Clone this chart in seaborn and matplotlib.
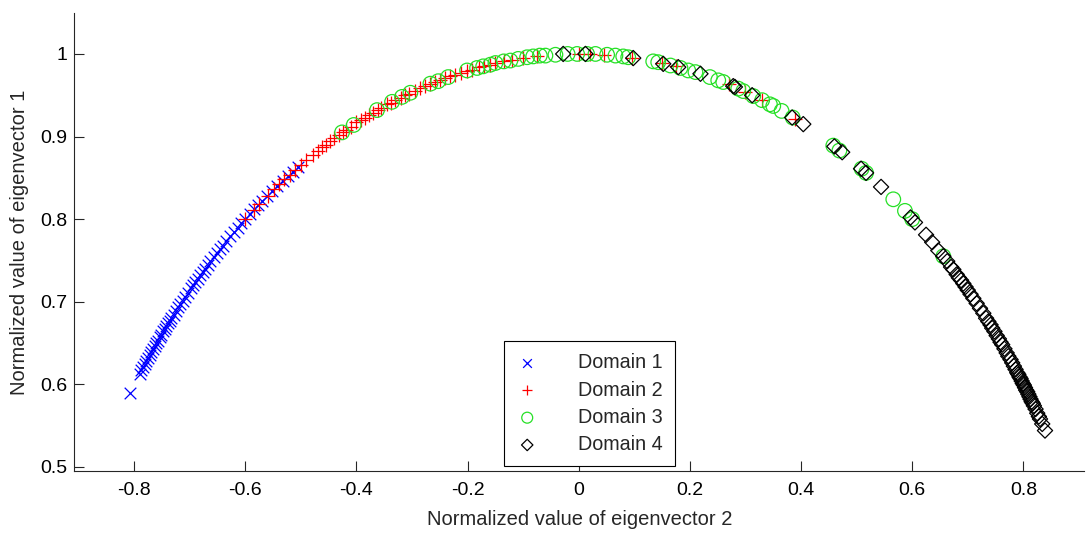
import matplotlib
matplotlib.use("Agg")
import matplotlib.pyplot as plt
import seaborn as sns
import pandas as pd

# ---------------- data ----------------
d1_x = [-0.807, -0.790, -0.787, -0.784, -0.781, -0.778, -0.775, -0.772, -0.769, -0.766,
        -0.763, -0.760, -0.757, -0.754, -0.751, -0.748, -0.745, -0.742, -0.739, -0.736,
        -0.733, -0.729, -0.725, -0.721, -0.717, -0.713, -0.708, -0.703, -0.698, -0.694,
        -0.690, -0.686, -0.681, -0.677, -0.673, -0.668, -0.663, -0.657, -0.651, -0.645,
        -0.640, -0.634, -0.627, -0.620, -0.614, -0.607, -0.600, -0.592, -0.584, -0.577,
        -0.570, -0.561, -0.552, -0.543, -0.533, -0.524, -0.515, -0.505]
d1_y = [0.590, 0.613, 0.617, 0.621, 0.625, 0.628, 0.632, 0.636, 0.639, 0.643,
        0.646, 0.650, 0.653, 0.657, 0.660, 0.664, 0.667, 0.670, 0.674, 0.677,
        0.680, 0.684, 0.689, 0.693, 0.697, 0.701, 0.706, 0.711, 0.716, 0.720,
        0.724, 0.728, 0.732, 0.736, 0.740, 0.744, 0.749, 0.754, 0.759, 0.764,
        0.768, 0.773, 0.779, 0.785, 0.789, 0.795, 0.800, 0.806, 0.812, 0.817,
        0.822, 0.828, 0.834, 0.840, 0.846, 0.852, 0.857, 0.863]

d2_x = [-0.600, -0.585, -0.575, -0.560, -0.548, -0.540, -0.530, -0.520, -0.510, -0.500,
        -0.490, -0.478, -0.470, -0.462, -0.455, -0.448, -0.440, -0.432, -0.425, -0.418,
        -0.410, -0.400, -0.392, -0.385, -0.378, -0.370, -0.362, -0.355, -0.345, -0.338,
        -0.330, -0.320, -0.312, -0.305, -0.295, -0.285, -0.276, -0.268, -0.258, -0.250,
        -0.240, -0.232, -0.222, -0.212, -0.202, -0.192, -0.180, -0.170, -0.160, -0.150,
        -0.135, -0.120, -0.100, -0.075, 0.000, 0.020, 0.045, 0.095, 0.150, 0.175,
        0.270, 0.300, 0.330, 0.390]
d2_y = [0.800, 0.811, 0.818, 0.828, 0.836, 0.842, 0.848, 0.854, 0.860, 0.866,
        0.872, 0.878, 0.883, 0.887, 0.890, 0.894, 0.898, 0.902, 0.905, 0.908,
        0.912, 0.917, 0.920, 0.923, 0.926, 0.929, 0.932, 0.935, 0.939, 0.941,
        0.944, 0.947, 0.950, 0.952, 0.955, 0.959, 0.961, 0.963, 0.966, 0.968,
        0.971, 0.973, 0.975, 0.977, 0.979, 0.981, 0.984, 0.985, 0.987, 0.989,
        0.991, 0.993, 0.995, 0.997, 1.000, 1.000, 0.999, 0.995, 0.989, 0.985,
        0.963, 0.954, 0.944, 0.921]

d3_x = [-0.426, -0.405, -0.363, -0.336, -0.318, -0.303, -0.267, -0.253, -0.235, -0.201,
        -0.183, -0.172, -0.159, -0.150, -0.135, -0.123, -0.109, -0.093, -0.082, -0.070,
        -0.060, -0.042, -0.020, -0.003, 0.015, 0.030, 0.051, 0.066, 0.080, 0.089,
        0.134, 0.143, 0.165, 0.183, 0.197, 0.210, 0.236, 0.251, 0.260, 0.287,
        0.296, 0.314, 0.330, 0.344, 0.350, 0.365, 0.385, 0.458, 0.469, 0.509,
        0.517, 0.566, 0.587, 0.600, 0.656]
d3_y = [0.905, 0.914, 0.932, 0.942, 0.948, 0.953, 0.964, 0.967, 0.972, 0.980,
        0.983, 0.985, 0.987, 0.989, 0.991, 0.992, 0.994, 0.996, 0.997, 0.998,
        0.998, 0.999, 1.000, 1.000, 1.000, 1.000, 0.999, 0.998, 0.997, 0.996,
        0.991, 0.990, 0.986, 0.983, 0.980, 0.978, 0.972, 0.968, 0.966, 0.958,
        0.955, 0.949, 0.944, 0.939, 0.937, 0.931, 0.923, 0.889, 0.883, 0.861,
        0.856, 0.824, 0.810, 0.800, 0.755]

d4_x = [-0.028, 0.012, 0.098, 0.152, 0.179, 0.219, 0.278, 0.281, 0.312, 0.384,
        0.404, 0.460, 0.474, 0.508, 0.517, 0.544, 0.597, 0.605, 0.625, 0.636,
        0.647, 0.656, 0.663, 0.670, 0.674, 0.680, 0.684, 0.688, 0.692, 0.696,
        0.700, 0.705, 0.710, 0.716, 0.722, 0.728, 0.733, 0.737, 0.741, 0.744,
        0.748, 0.752, 0.756, 0.759, 0.762, 0.766, 0.770, 0.773, 0.777, 0.780,
        0.783, 0.786, 0.789, 0.791, 0.793, 0.795, 0.797, 0.799, 0.801, 0.803,
        0.805, 0.807, 0.809, 0.811, 0.813, 0.815, 0.817, 0.819, 0.822, 0.825,
        0.828, 0.830, 0.834, 0.839]
d4_y = [1.000, 1.000, 0.995, 0.988, 0.984, 0.976, 0.961, 0.960, 0.950, 0.923,
        0.915, 0.888, 0.881, 0.861, 0.856, 0.839, 0.802, 0.796, 0.781, 0.772,
        0.762, 0.755, 0.749, 0.742, 0.739, 0.733, 0.729, 0.726, 0.722, 0.718,
        0.714, 0.709, 0.704, 0.698, 0.692, 0.686, 0.680, 0.676, 0.672, 0.668,
        0.664, 0.659, 0.655, 0.651, 0.648, 0.643, 0.638, 0.634, 0.630, 0.626,
        0.622, 0.618, 0.614, 0.612, 0.609, 0.607, 0.604, 0.601, 0.599, 0.596,
        0.593, 0.591, 0.588, 0.585, 0.582, 0.579, 0.577, 0.574, 0.570, 0.565,
        0.561, 0.558, 0.552, 0.544]

labels = ["Domain 1", "Domain 2", "Domain 3", "Domain 4"]
x_ticks = [-0.8, -0.6, -0.4, -0.2, 0, 0.2, 0.4, 0.6, 0.8]
x_tick_labels = ["-0.8", "-0.6", "-0.4", "-0.2", "0", "0.2", "0.4", "0.6", "0.8"]
y_ticks = [0.5, 0.6, 0.7, 0.8, 0.9, 1.0]
y_tick_labels = ["0.5", "0.6", "0.7", "0.8", "0.9", "1"]

# ---------------- style ----------------
sns.set_style("white")
axis_col = "#262626"
plt.rcParams.update({
    "font.family": ["Liberation Sans", "DejaVu Sans"],
    "axes.unicode_minus": False,
    "xtick.bottom": True, "ytick.left": True,
    "xtick.top": False, "ytick.right": False,
    "xtick.direction": "in", "ytick.direction": "in",
    "xtick.major.size": 7, "ytick.major.size": 7,
    "xtick.major.width": 0.8, "ytick.major.width": 0.8,
    "xtick.color": axis_col, "ytick.color": axis_col,
    "xtick.labelcolor": "black", "ytick.labelcolor": "black",
})

fig = plt.figure(figsize=(10.91, 5.38), dpi=100)
ax = fig.add_axes([0.068, 0.1245, 0.926, 0.852])

series = [
    (d1_x, d1_y, "x", (0, 0, 1), True),
    (d2_x, d2_y, "+", (1, 0, 0), True),
    (d3_x, d3_y, "o", (0.15, 0.88, 0.15), False),
    (d4_x, d4_y, "D", (0, 0, 0), False),
]
sizes = {"x": 70, "+": 95, "o": 110, "D": 60}

for (xs, ys, mk, col, line_art), lab in zip(series, labels):
    df = pd.DataFrame({"x": xs, "y": ys})
    if line_art:
        sns.scatterplot(data=df, x="x", y="y", marker=mk, color=col, s=sizes[mk],
                        linewidth=0.9, ax=ax, label=lab, legend=False)
    else:
        sns.scatterplot(data=df, x="x", y="y", marker=mk, color=col, s=sizes[mk],
                        facecolors="none", edgecolor=col, linewidth=0.9,
                        ax=ax, label=lab, legend=False)

ax.set_xlim(-0.908, 0.91)
ax.set_ylim(0.495, 1.05)
ax.set_xticks(x_ticks)
ax.set_xticklabels(x_tick_labels)
ax.set_yticks(y_ticks)
ax.set_yticklabels(y_tick_labels)

for side in ["top", "right"]:
    ax.spines[side].set_visible(False)
for side in ["left", "bottom"]:
    ax.spines[side].set_color(axis_col)
    ax.spines[side].set_linewidth(0.8)

ax.tick_params(axis="both", which="major", direction="in", length=7, width=0.8,
               color=axis_col, labelsize=14, bottom=True, left=True)
ax.tick_params(axis="x", pad=8)
ax.tick_params(axis="y", pad=5)

ax.set_xlabel("Normalized value of eigenvector 2", fontsize=14.5, labelpad=8)
ax.set_ylabel("Normalized value of eigenvector 1", fontsize=14.5, labelpad=8)

handles = ax.collections[:4]
leg = ax.legend(handles, labels, loc="lower left", bbox_to_anchor=(0.425, 0.011),
                fontsize=14.2, frameon=True, fancybox=False, framealpha=1,
                edgecolor="black", borderpad=0.6, labelspacing=0.42,
                handletextpad=2.0, handlelength=1.2, borderaxespad=0,
                markerscale=0.75)
leg.get_frame().set_linewidth(0.8)

fig.savefig("out.png", dpi=100)
